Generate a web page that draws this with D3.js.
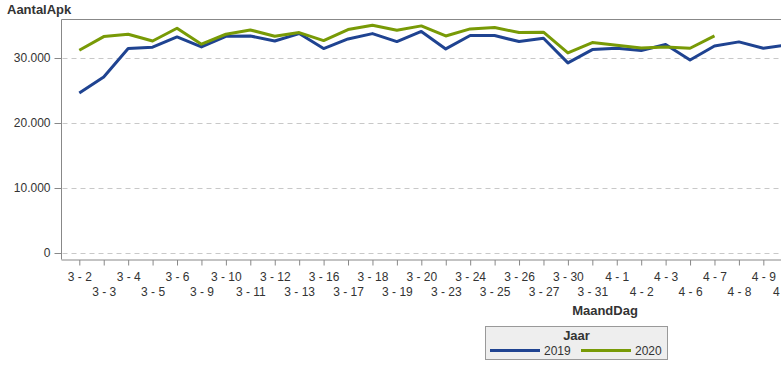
<!DOCTYPE html>
<html><head><meta charset="utf-8">
<script src="https://cdn.jsdelivr.net/npm/d3@7"></script>
<style>
html,body{margin:0;padding:0;background:#fff;overflow:hidden;}
text{font-family:"Liberation Sans",Arial,sans-serif;fill:#333;}
</style></head>
<body>
<svg id="chart" width="781" height="365"></svg>
<script>
const categories = ["3 - 2","3 - 3","3 - 4","3 - 5","3 - 6","3 - 9","3 - 10","3 - 11","3 - 12","3 - 13",
  "3 - 16","3 - 17","3 - 18","3 - 19","3 - 20","3 - 23","3 - 24","3 - 25","3 - 26","3 - 27",
  "3 - 30","3 - 31","4 - 1","4 - 2","4 - 3","4 - 6","4 - 7","4 - 8","4 - 9","4 - 10"];
const values2019 = [24580,27030,31380,31580,33160,31630,33260,33310,32540,33670,
  31380,32850,33670,32450,34000,31320,33370,33370,32450,32960,
  29180,31220,31420,31070,31990,29630,31780,32400,31420,31950];
const values2020 = [31120,33210,33570,32540,34490,32040,33570,34230,33260,33830,
  32600,34290,34950,34180,34850,33310,34390,34590,33830,33880,
  30710,32300,31880,31470,31630,31420,33310,null,null,null];
const yTicks = [0,10000,20000,30000];
const yTickLabels = ["0","10.000","20.000","30.000"];
const seriesNames = ["2019","2020"];
const colors = ["#1f4391","#789a06"];

const svg = d3.select("#chart");
const W = 781;
const plotLeft = 61.5, plotTop = 19.5, plotBottom = 259.5;

const x = d3.scalePoint().domain(categories).range([79.3, 79.3 + 24.43*(categories.length-1)]);
const y = d3.scaleLinear().domain([-950, 35830]).range([plotBottom, plotTop]);

// grid lines
svg.append("g").selectAll("line").data(yTicks).join("line")
  .attr("x1", plotLeft+1).attr("x2", W)
  .attr("y1", d => Math.round(y(d))+0.5).attr("y2", d => Math.round(y(d))+0.5)
  .attr("stroke", "#c8c8c8").attr("stroke-dasharray", "5,4").attr("stroke-width",1);

// frame top
svg.append("line").attr("x1", plotLeft).attr("x2", W).attr("y1", plotTop).attr("y2", plotTop)
  .attr("stroke", "#888").attr("stroke-width", 1);

// y axis
const yAxis = d3.axisLeft(y).tickValues(yTicks).tickSize(7).tickPadding(4)
  .tickFormat((d,i) => yTickLabels[i]);
const gy = svg.append("g").attr("transform", `translate(${plotLeft},0)`).call(yAxis);
gy.select(".domain").attr("d", `M0,${plotTop}V${plotBottom}`).attr("stroke","#888");
gy.selectAll(".tick line").attr("stroke","#888");
gy.selectAll(".tick").attr("transform", d => `translate(0,${Math.round(y(d))+0.5})`);
gy.selectAll(".tick text").style("font-size","12px").style("font-family","'Liberation Sans',Arial,sans-serif").attr("fill","#333");

// x axis
const xAxis = d3.axisBottom(x).tickSize(6).tickSizeOuter(0);
const gx = svg.append("g").attr("transform", `translate(0,${plotBottom})`).call(xAxis);
gx.select(".domain").attr("d", `M${plotLeft},0.5H${W}`).attr("stroke","#888");
gx.selectAll(".tick line").attr("stroke","#888").attr("y1",0.5);
gx.selectAll(".tick text")
  .style("font-size","12px").style("font-family","'Liberation Sans',Arial,sans-serif").attr("fill","#333")
  .attr("dy", null)
  .attr("y", (d,i) => i%2===0 ? 21 : 36);

// lines
const line = d3.line().defined(d => d.v != null).x(d => x(d.c)).y(d => y(d.v));
[values2019, values2020].forEach((vals, k) => {
  svg.append("path")
    .datum(categories.map((c,i) => ({c, v: vals[i]})))
    .attr("fill","none").attr("stroke", colors[k]).attr("stroke-width", 3)
    .attr("stroke-linejoin","round").attr("d", line);
});

// titles
svg.append("text").attr("x", 7).attr("y", 14).style("font-size","13px").style("font-weight","bold")
  .attr("fill","#333").text("AantalApk");
svg.append("text").attr("x", 605).attr("y", 315).attr("text-anchor","middle")
  .style("font-size","13px").style("font-weight","bold").text("MaandDag");

// legend
const lg = svg.append("g");
lg.append("rect").attr("x", 485.5).attr("y", 326.5).attr("width", 182).attr("height", 33)
  .attr("fill","#eeeeee").attr("stroke","#999");
lg.append("text").attr("x", 576.5).attr("y", 340).attr("text-anchor","middle")
  .style("font-size","13px").style("font-weight","bold").text("Jaar");
const lx = [490, 581];
seriesNames.forEach((s,k) => {
  lg.append("line").attr("x1", lx[k]).attr("x2", lx[k]+50).attr("y1", 350.5).attr("y2", 350.5)
    .attr("stroke", colors[k]).attr("stroke-width", 3);
  lg.append("text").attr("x", lx[k]+54).attr("y", 355).style("font-size","12px").text(s);
});
</script>
</body></html>
